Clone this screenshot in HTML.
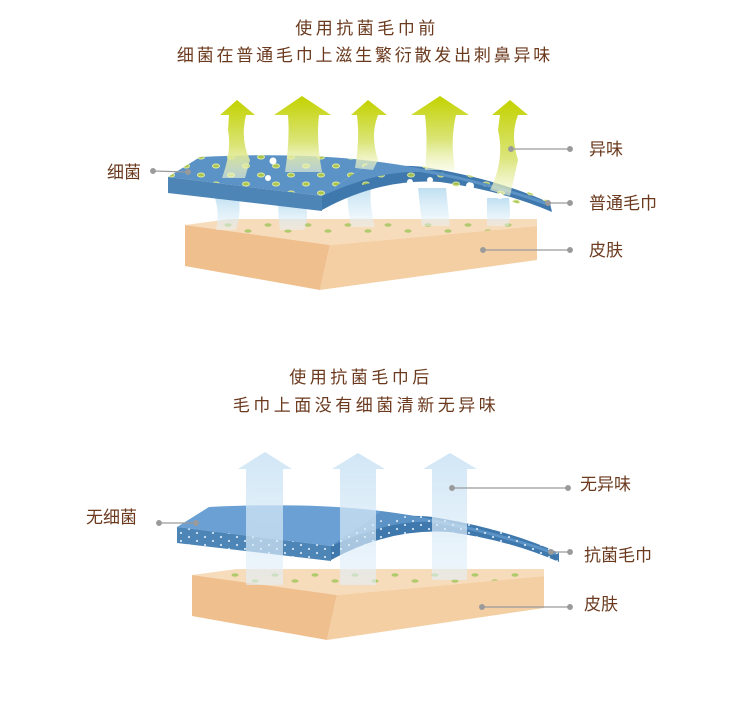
<!DOCTYPE html>
<html><head><meta charset="utf-8"><style>
html,body{margin:0;padding:0;background:#fff;}
svg{display:block;}
text{font-family:"Liberation Sans","Noto Sans CJK SC",sans-serif;fill:#6b3a1e;}
</style></head><body>
<svg width="750" height="708" viewBox="0 0 750 708" xmlns="http://www.w3.org/2000/svg">
<defs>
<linearGradient id="gA" x1="0" y1="0" x2="0" y2="1">
<stop offset="0" stop-color="#c3d200"/><stop offset="0.6" stop-color="#dbe57a"/><stop offset="1" stop-color="#f4f8d8" stop-opacity="0.6"/></linearGradient>
<linearGradient id="bA" x1="0" y1="0" x2="0" y2="1">
<stop offset="0" stop-color="#c9e2f4"/><stop offset="1" stop-color="#e3f0fa" stop-opacity="0.7"/></linearGradient>
<linearGradient id="vap" x1="0" y1="0" x2="0" y2="1">
<stop offset="0" stop-color="#b8dcf0"/><stop offset="1" stop-color="#e8f4fb" stop-opacity="0.5"/></linearGradient>
<pattern id="gd" width="30" height="18" patternUnits="userSpaceOnUse">
<ellipse cx="6" cy="4" rx="3.5" ry="2" fill="#a9c64a" stroke="#dfe9a0" stroke-width="1"/>
<ellipse cx="21" cy="13" rx="3.5" ry="2" fill="#a9c64a" stroke="#dfe9a0" stroke-width="1"/>
</pattern>
<pattern id="wd" width="16" height="8" patternUnits="userSpaceOnUse">
<circle cx="4" cy="3" r="1.1" fill="#cfe3f3"/><circle cx="12" cy="7" r="1.1" fill="#cfe3f3"/>
</pattern>
<pattern id="sd" width="40" height="12" patternUnits="userSpaceOnUse">
<ellipse cx="8" cy="3" rx="3.5" ry="1.8" fill="#9fc65a"/><ellipse cx="28" cy="9" rx="3.5" ry="1.8" fill="#9fc65a"/>
</pattern>
</defs>

<!-- Titles -->
<text x="367" y="34" font-size="17" text-anchor="middle" letter-spacing="3.5">使用抗菌毛巾前</text>
<text x="365" y="61" font-size="17" text-anchor="middle" letter-spacing="2.8">细菌在普通毛巾上滋生繁衍散发出刺鼻异味</text>
<text x="361" y="383" font-size="17" text-anchor="middle" letter-spacing="3.5">使用抗菌毛巾后</text>
<text x="366" y="411" font-size="17" text-anchor="middle" letter-spacing="3.5">毛巾上面没有细菌清新无异味</text>

<!-- ===== TOP DIAGRAM ===== -->
<polygon points="185,225 230,219 537,219 537,226 330,245" fill="#f7dcbc"/>
<rect x="200" y="221" width="320" height="13" fill="url(#sd)" opacity="0.8"/>
<polygon points="185,225 330,245 320,290 185,266" fill="#efbf8e"/>
<polygon points="330,245 537,226 537,260 320,290" fill="#f5cfa4"/>
<g fill="url(#vap)" opacity="0.9">
<path d="M214,195 h24 q4,15 -2,35 h-20 q4,-18 -2,-35z"/>
<path d="M278,200 h26 q6,15 0,30 h-24 q-2,-15 -2,-30z"/>
<path d="M347,185 h24 q-2,20 4,42 h-24 q-4,-22 -4,-42z"/>
<path d="M418,188 h28 q2,20 4,38 h-28 q-2,-20 -4,-38z"/>
<path d="M487,198 h22 q2,15 0,28 h-22 q0,-15 0,-28z"/>
</g>
<path d="M322,196 Q370,158 430,168 Q500,180 550,203 L552,212 Q500,190 440,182 Q380,178 322,210Z" fill="#3f78ad"/>
<path d="M330,190 Q380,165 440,176 Q500,188 545,206" fill="none" stroke="url(#gd)" stroke-width="14" opacity="0.9"/>
<circle cx="430" cy="180" r="3" fill="#fff"/><circle cx="470" cy="186" r="4" fill="#fff"/><circle cx="500" cy="196" r="3" fill="#fff"/><circle cx="410" cy="182" r="3" fill="#fff"/>
<path d="M168,177 L200,157 Q300,152 372,161 L322,196 Z" fill="#5b93c6"/>
<path d="M372,161 Q460,172 550,203 L546,205 Q480,182 420,172 Q380,170 322,196 Z" fill="#5b93c6"/>
<path d="M168,177 L200,157 Q300,152 372,161 L322,196 Z" fill="url(#gd)"/>
<path d="M168,177 L322,196 L322,211 L168,193 Z" fill="#4d85b7"/>
<circle cx="273" cy="161" r="3.5" fill="#fff"/><circle cx="268" cy="178" r="3" fill="#fff"/>
<g fill="url(#gA)">
<path d="M237,100 L255,115 L246,115 Q240,140 250,160 L245,178 L222,178 Q232,150 228,130 L229,115 L220,115 Z"/>
<path d="M302,96 L331,115 L319,115 Q316,140 322,172 L285,172 Q290,140 288,115 L274,115 Z"/>
<path d="M368,100 L387,115 L378,115 Q370,135 378,160 L373,170 L355,168 Q360,140 357,115 L351,115 Z"/>
<path d="M440,96 L469,115 L456,115 Q450,140 455,170 L425,170 Q428,140 425,115 L411,115 Z"/>
<path d="M510,100 L528,115 L518,115 Q510,135 518,160 L510,196 L490,190 Q505,160 498,130 L500,115 L492,115 Z"/>
</g>
<g stroke="#9a9a9a" stroke-width="1.3" fill="#9a9a9a">
<line x1="153" y1="171" x2="188" y2="172"/><circle cx="153" cy="171" r="2.3"/><circle cx="188" cy="172" r="2.3"/>
<line x1="511" y1="149" x2="570" y2="149"/><circle cx="511" cy="149" r="2.3"/><circle cx="570" cy="149" r="2.3"/>
<line x1="548" y1="203" x2="570" y2="203"/><circle cx="548" cy="203" r="2.3"/><circle cx="570" cy="203" r="2.3"/>
<line x1="483" y1="250" x2="570" y2="250"/><circle cx="483" cy="250" r="2.3"/><circle cx="570" cy="250" r="2.3"/>
</g>
<text x="107" y="178" font-size="17">细菌</text>
<text x="589" y="155" font-size="17">异味</text>
<text x="589" y="209" font-size="17">普通毛巾</text>
<text x="589" y="256" font-size="17">皮肤</text>

<!-- ===== BOTTOM DIAGRAM ===== -->
<g transform="translate(7,350)">
<polygon points="185,225 230,219 537,219 537,226 330,245" fill="#f7dcbc"/>
<rect x="205" y="221" width="320" height="13" fill="url(#sd)" opacity="0.8"/>
<polygon points="185,225 330,245 320,290 185,266" fill="#efbf8e"/>
<polygon points="330,245 537,226 537,258 320,290" fill="#f5cfa4"/>
</g>
<g transform="translate(9,350)">
<path d="M322,196 Q370,158 430,168 Q500,180 550,203 L550,212 Q500,190 440,182 Q380,178 322,210Z" fill="#3f78ad"/>
<path d="M168,177 L200,157 Q300,152 372,161 L322,196 Z" fill="#6aa0d3"/>
<path d="M372,161 Q460,172 550,203 L546,205 Q480,182 420,172 Q380,170 322,196 Z" fill="#5b93c6"/>
<path d="M168,177 L322,196 L322,211 L168,193 Z" fill="#4d85b7"/>
<path d="M168,177 L322,196 L322,211 L168,193 Z" fill="url(#wd)"/>
<path d="M322,196 Q370,158 430,168 Q500,180 550,203 L550,212 Q500,190 440,182 Q380,178 322,210Z" fill="url(#wd)"/>
<ellipse cx="418" cy="187" rx="5" ry="2" fill="#fff"/><ellipse cx="470" cy="195" rx="5" ry="2.5" fill="#fff"/><ellipse cx="498" cy="202" rx="4" ry="2" fill="#fff"/>
</g>
<g fill="url(#bA)" opacity="0.85">
<path d="M265,452 L292,469 L283,469 L283,585 L246,585 L246,469 L238,469 Z"/>
<path d="M358,453 L385,469 L376,469 L376,585 L340,585 L340,469 L332,469 Z"/>
<path d="M450,453 L477,469 L467,469 L467,580 L432,580 L432,469 L423,469 Z"/>
</g>
<g stroke="#9a9a9a" stroke-width="1.3" fill="#9a9a9a">
<line x1="159" y1="523" x2="196" y2="523"/><circle cx="159" cy="523" r="2.3"/><circle cx="196" cy="523" r="2.3"/>
<line x1="452" y1="488" x2="568" y2="488"/><circle cx="452" cy="488" r="2.3"/><circle cx="568" cy="488" r="2.3"/>
<line x1="551" y1="552" x2="570" y2="552"/><circle cx="551" cy="552" r="2.3"/><circle cx="570" cy="552" r="2.3"/>
<line x1="482" y1="607" x2="570" y2="607"/><circle cx="482" cy="607" r="2.3"/><circle cx="570" cy="607" r="2.3"/>
</g>
<text x="86" y="523" font-size="17">无细菌</text>
<text x="580" y="490" font-size="17">无异味</text>
<text x="584" y="561" font-size="17">抗菌毛巾</text>
<text x="584" y="610" font-size="17">皮肤</text>
</svg>
</body></html>
